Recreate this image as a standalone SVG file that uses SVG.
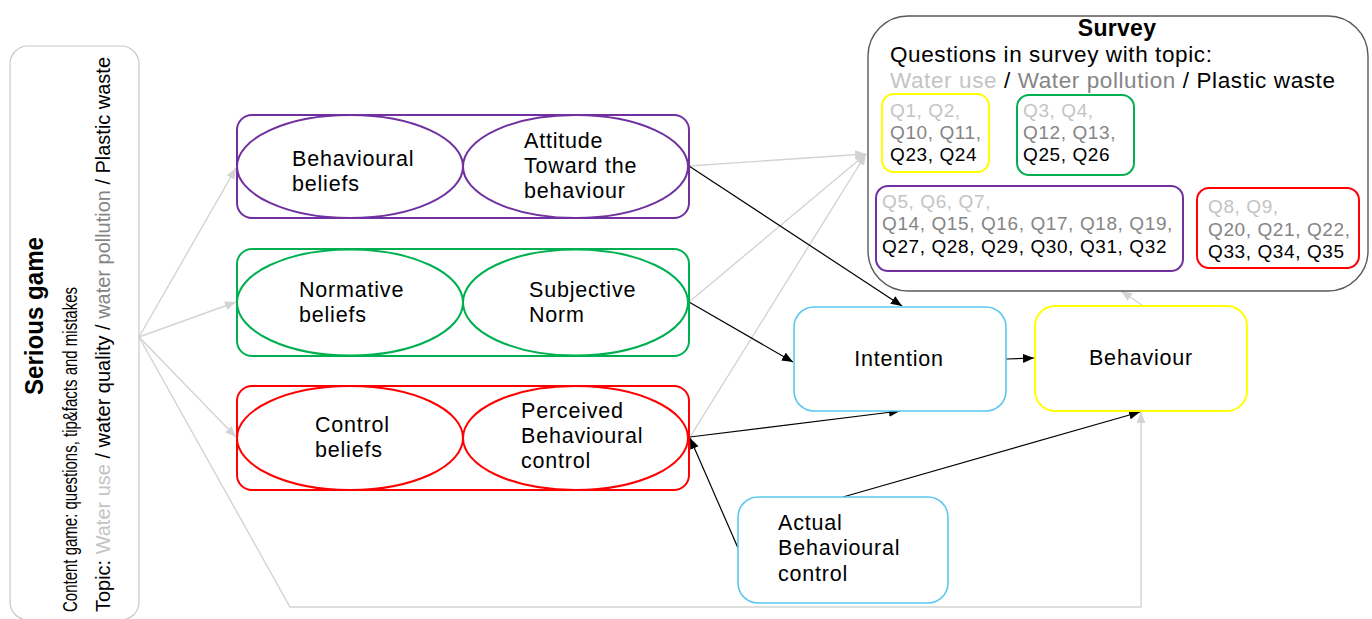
<svg xmlns="http://www.w3.org/2000/svg" width="1372" height="619" viewBox="0 0 1372 619">
<style>
  text { font-family: "Liberation Sans", Arial, sans-serif; fill: #000; }
  .lbl { font-size: 21.5px; letter-spacing: 0.8px; }
  .q { font-size: 19px; letter-spacing: 0.6px; }
  .sv { font-size: 22.5px; letter-spacing: 0.6px; }
  .lg { fill: #c4c4c4; }
  .mg { fill: #858585; }
  .blk { stroke: #000; stroke-width: 1.2; fill: none; }
  .gry { stroke: #d3d3d3; stroke-width: 1.4; fill: none; }
</style>
<defs>
  <marker id="ab" markerUnits="userSpaceOnUse" markerWidth="12" markerHeight="10" refX="11" refY="4.5" orient="auto">
    <path d="M0,0 L11,4.5 L0,9 z" fill="#000"/>
  </marker>
  <marker id="ag" markerUnits="userSpaceOnUse" markerWidth="12" markerHeight="10" refX="11" refY="4.5" orient="auto">
    <path d="M0,0 L11,4.5 L0,9 z" fill="#d3d3d3"/>
  </marker>
</defs>
<rect width="1372" height="619" fill="#fff"/>

<g id="connectors">
  <path class="gry" d="M139,337 L236,168" marker-end="url(#ag)"/>
  <path class="gry" d="M139,337 L236,302" marker-end="url(#ag)"/>
  <path class="gry" d="M139,337 L236,437" marker-end="url(#ag)"/>
  <path class="gry" d="M139,337 L290,607 L1141,607 L1141,412" marker-end="url(#ag)"/>
  <path class="gry" d="M689,166 L866,154" marker-end="url(#ag)"/>
  <path class="gry" d="M689,302 L866,154" marker-end="url(#ag)"/>
  <path class="gry" d="M690,437 L866,154" marker-end="url(#ag)"/>
  <path class="gry" d="M1142,305 L1121,291" marker-end="url(#ag)"/>
  <path class="blk" d="M689,166 L902,306" marker-end="url(#ab)"/>
  <path class="blk" d="M689,302 L793,362" marker-end="url(#ab)"/>
  <path class="blk" d="M690,437 L900,411" marker-end="url(#ab)"/>
  <path class="blk" d="M1006,359 L1034,358" marker-end="url(#ab)"/>
  <path class="blk" d="M843,497 L1140,412" marker-end="url(#ab)"/>
  <path class="blk" d="M738,548 L690,438" marker-end="url(#ab)"/>
</g>

<g id="serious-game">
  <rect x="10" y="46" width="129" height="574" rx="18" fill="none" stroke="#c8c8c8" stroke-width="1.2"/>
  <text transform="translate(43,316) rotate(-90)" text-anchor="middle" font-size="26" font-weight="bold" textLength="158" lengthAdjust="spacingAndGlyphs">Serious game</text>
  <text transform="translate(77,612) rotate(-90)" font-size="20" textLength="325" lengthAdjust="spacingAndGlyphs">Content game: questions, tip&amp;facts and mistakes</text>
  <text transform="translate(110,612) rotate(-90)" font-size="20" textLength="555" lengthAdjust="spacingAndGlyphs">Topic: <tspan class="lg">Water use</tspan> / water quality / <tspan class="mg">water pollution</tspan> / Plastic waste</text>
</g>

<g id="row-attitude">
  <rect x="237" y="115" width="452" height="103" rx="15" fill="none" stroke="#7030a0" stroke-width="2"/>
  <ellipse cx="350" cy="166.5" rx="113" ry="51.5" fill="none" stroke="#7030a0" stroke-width="2"/>
  <ellipse cx="575.5" cy="166.5" rx="112.5" ry="51.5" fill="none" stroke="#7030a0" stroke-width="2"/>
  <text class="lbl" x="292" y="166">Behavioural</text>
  <text class="lbl" x="292" y="191">beliefs</text>
  <text class="lbl" x="524" y="148">Attitude</text>
  <text class="lbl" x="524" y="173">Toward the</text>
  <text class="lbl" x="524" y="198">behaviour</text>
</g>

<g id="row-norm">
  <rect x="237" y="249" width="452" height="107" rx="15" fill="none" stroke="#00b050" stroke-width="2"/>
  <ellipse cx="350" cy="302.5" rx="113" ry="53" fill="none" stroke="#00b050" stroke-width="2"/>
  <ellipse cx="575.5" cy="302.5" rx="112.5" ry="53" fill="none" stroke="#00b050" stroke-width="2"/>
  <text class="lbl" x="299" y="297">Normative</text>
  <text class="lbl" x="299" y="322">beliefs</text>
  <text class="lbl" x="529" y="297">Subjective</text>
  <text class="lbl" x="529" y="322">Norm</text>
</g>

<g id="row-control">
  <rect x="237" y="386" width="452" height="104" rx="15" fill="none" stroke="#ff0000" stroke-width="2"/>
  <ellipse cx="350" cy="438" rx="113" ry="52" fill="none" stroke="#ff0000" stroke-width="2"/>
  <ellipse cx="575.5" cy="438" rx="112.5" ry="52" fill="none" stroke="#ff0000" stroke-width="2"/>
  <text class="lbl" x="315" y="432">Control</text>
  <text class="lbl" x="315" y="457">beliefs</text>
  <text class="lbl" x="521" y="418">Perceived</text>
  <text class="lbl" x="521" y="443">Behavioural</text>
  <text class="lbl" x="521" y="468">control</text>
</g>

<g id="intention">
  <rect x="794" y="307" width="212" height="104" rx="20" fill="#fff" stroke="#5bc8f0" stroke-width="1.6"/>
  <text class="lbl" x="899" y="366" text-anchor="middle">Intention</text>
</g>

<g id="behaviour">
  <rect x="1035" y="306" width="212" height="105" rx="20" fill="#fff" stroke="#ffff00" stroke-width="2"/>
  <text class="lbl" x="1141" y="365" text-anchor="middle">Behaviour</text>
</g>

<g id="actual-control">
  <rect x="738" y="497" width="210" height="106" rx="20" fill="#fff" stroke="#5bc8f0" stroke-width="1.6"/>
  <text class="lbl" x="778" y="530">Actual</text>
  <text class="lbl" x="778" y="555">Behavioural</text>
  <text class="lbl" x="778" y="581">control</text>
</g>

<g id="survey">
  <rect x="868" y="16" width="500" height="275" rx="40" fill="none" stroke="#595959" stroke-width="1.4"/>
  <text x="1117" y="36" text-anchor="middle" font-size="23" font-weight="bold" letter-spacing="0.3">Survey</text>
  <text class="sv" x="890" y="62">Questions in survey with topic:</text>
  <text class="sv" x="890" y="88"><tspan class="lg">Water use</tspan> / <tspan class="mg">Water pollution</tspan> / Plastic waste</text>
</g>

<g id="q-yellow">
  <rect x="882" y="94" width="107" height="78" rx="12" fill="none" stroke="#ffff00" stroke-width="2"/>
  <text class="q lg" x="890" y="117">Q1, Q2,</text>
  <text class="q mg" x="890" y="139">Q10, Q11,</text>
  <text class="q" x="890" y="161">Q23, Q24</text>
</g>

<g id="q-green">
  <rect x="1017" y="95" width="117" height="80" rx="12" fill="none" stroke="#00b050" stroke-width="2"/>
  <text class="q lg" x="1023" y="117">Q3, Q4,</text>
  <text class="q mg" x="1023" y="139">Q12, Q13,</text>
  <text class="q" x="1023" y="161">Q25, Q26</text>
</g>

<g id="q-purple">
  <rect x="876" y="186" width="307" height="85" rx="12" fill="none" stroke="#7030a0" stroke-width="2"/>
  <text class="q lg" x="882" y="208">Q5, Q6, Q7,</text>
  <text class="q mg" x="882" y="230">Q14, Q15, Q16, Q17, Q18, Q19,</text>
  <text class="q" x="882" y="253">Q27, Q28, Q29, Q30, Q31, Q32</text>
</g>

<g id="q-red">
  <rect x="1197" y="188" width="162" height="80" rx="12" fill="none" stroke="#ff0000" stroke-width="2"/>
  <text class="q lg" x="1208" y="213">Q8, Q9,</text>
  <text class="q mg" x="1208" y="236">Q20, Q21, Q22,</text>
  <text class="q" x="1208" y="258">Q33, Q34, Q35</text>
</g>
</svg>
